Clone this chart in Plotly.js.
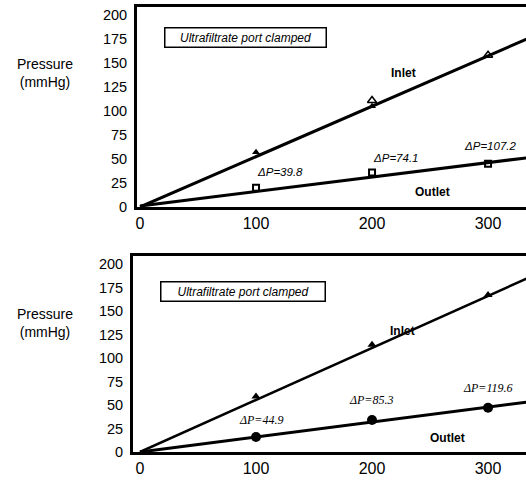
<!DOCTYPE html>
<html>
<head>
<meta charset="utf-8">
<script src="https://cdn.plot.ly/plotly-3.0.1.min.js"></script>
<style>
html,body{margin:0;padding:0;overflow:hidden;background:#fff;}
#chart{width:550px;height:480px;}
</style>
</head>
<body>
<div id="chart"></div>
<script>
// ---- data ----
const flowRates = [100, 200, 300];
const fitX = [0, 345];

// top panel
const topInletOpen = [null, 111, 158];
const topInletFilled = [57, 105, null];
const topOutlet = [20, 36, 45];
const topInletFit = [0, 181];
const topOutletFit = [1, 53];
const topDeltaP = ['39.8', '74.1', '107.2'];

// bottom panel
const bottomInlet = [59, 114, 167];
const bottomOutlet = [16, 34, 47];
const bottomInletFit = [0, 191];
const bottomOutletFit = [0, 55];
const bottomDeltaP = ['44.9', '85.3', '119.6'];

const yTicks = [0, 25, 50, 75, 100, 125, 150, 175, 200];
const xTicks = [0, 100, 200, 300];
const boxText = 'Ultrafiltrate port clamped';
const yTitle = 'Pressure<br>(mmHg)';

const SANS = 'Liberation Sans, Arial, sans-serif';
const SERIF = 'Liberation Serif, Times New Roman, serif';

const lineStyle = {color: '#000', width: 3};

const traces = [
  {x: fitX, y: topInletFit, mode: 'lines', line: lineStyle, xaxis: 'x', yaxis: 'y'},
  {x: fitX, y: topOutletFit, mode: 'lines', line: lineStyle, xaxis: 'x', yaxis: 'y'},
  {x: flowRates, y: topInletFilled, mode: 'markers', xaxis: 'x', yaxis: 'y',
   marker: {symbol: 'triangle-up', size: 7, color: '#000'}},
  {x: flowRates, y: topInletOpen, mode: 'markers', xaxis: 'x', yaxis: 'y',
   marker: {symbol: 'triangle-up-open', size: 8, color: '#000', line: {width: 1.5}}},
  {x: flowRates, y: topOutlet, mode: 'markers', xaxis: 'x', yaxis: 'y',
   marker: {symbol: 'square-open', size: 6, color: '#000', line: {width: 2}}},

  {x: fitX, y: bottomInletFit, mode: 'lines', line: {color: '#000', width: 2.5}, xaxis: 'x2', yaxis: 'y2'},
  {x: fitX, y: bottomOutletFit, mode: 'lines', line: lineStyle, xaxis: 'x2', yaxis: 'y2'},
  {x: flowRates, y: bottomInlet, mode: 'markers', xaxis: 'x2', yaxis: 'y2',
   marker: {symbol: 'triangle-up', size: 8, color: '#000'}},
  {x: flowRates, y: bottomOutlet, mode: 'markers', xaxis: 'x2', yaxis: 'y2',
   marker: {symbol: 'circle', size: 10, color: '#000'}}
];

function xAxis(domainStart, rangeStart, anchor) {
  return {
    domain: [domainStart, 1], range: [rangeStart, 353.4], anchor: anchor,
    tickvals: xTicks, ticktext: xTicks.map(String), showgrid: false, zeroline: false,
    showline: true, linecolor: '#000', linewidth: 3, mirror: true, ticks: '',
    tickfont: {family: SANS, size: 16, color: '#000'}
  };
}
function yAxis(domain, top, anchor) {
  return {
    domain: domain, range: [0, top], anchor: anchor,
    tickvals: yTicks, ticktext: yTicks.map(String), showgrid: false, zeroline: false,
    showline: true, linecolor: '#000', linewidth: 3, mirror: true, ticks: '',
    ticklabelstandoff: 4,
    tickfont: {family: SANS, size: 14.5, color: '#000'}
  };
}

const ann = [];
function txt(text, x, y, xr, yr, font) {
  ann.push({text: text, x: x, y: y, xref: xr, yref: yr, showarrow: false,
            xanchor: 'center', yanchor: 'middle', font: font});
}
const bold = {family: SANS, size: 12, color: '#000', weight: 'bold'};
const itSans = {family: SANS, size: 11.5, color: '#000', style: 'italic'};
const itSerif = {family: SERIF, size: 12, color: '#000', style: 'italic'};
const titleFont = {family: SANS, size: 14, color: '#000'};

// top panel texts
ann.push({text: boxText, x: 90.5, y: 177, xref: 'x', yref: 'y', showarrow: false,
  font: {family: SANS, size: 12, color: '#000', style: 'italic'},
  bordercolor: '#000', borderwidth: 1.5, borderpad: 2, width: 156, bgcolor: '#fff'});
txt('Inlet', 227, 140, 'x', 'y', bold);
txt('Outlet', 252, 16, 'x', 'y', bold);
txt('ΔP=' + topDeltaP[0], 120.7, 36.5, 'x', 'y', itSans);
txt('ΔP=' + topDeltaP[1], 220, 51, 'x', 'y', itSans);
txt('ΔP=' + topDeltaP[2], 301.7, 63.5, 'x', 'y', itSans);
txt(yTitle, 45/550, 1 - 73/480, 'paper', 'paper', titleFont);

// bottom panel texts
ann.push({text: boxText, x: 89, y: 171, xref: 'x2', yref: 'y2', showarrow: false,
  font: {family: SANS, size: 12, color: '#000', style: 'italic'},
  bordercolor: '#000', borderwidth: 1.5, borderpad: 2, width: 159, bgcolor: '#fff'});
txt('Inlet', 226, 129, 'x2', 'y2', bold);
txt('Outlet', 265, 15, 'x2', 'y2', bold);
txt('ΔP=' + bottomDeltaP[0], 104, 34, 'x2', 'y2', itSerif);
txt('ΔP=' + bottomDeltaP[1], 199, 55, 'x2', 'y2', itSerif);
txt('ΔP=' + bottomDeltaP[2], 300, 68, 'x2', 'y2', itSerif);
txt(yTitle, 45/550, 1 - 323/480, 'paper', 'paper', titleFont);

const layout = {
  width: 550, height: 480,
  margin: {l: 0, r: 0, t: 0, b: 0},
  paper_bgcolor: '#fff', plot_bgcolor: '#fff',
  showlegend: false,
  xaxis: xAxis(137/550, -2.6, 'y'),
  yaxis: yAxis([1 - 207/480, 1 - 7/480], 208.3, 'x'),
  xaxis2: xAxis(133/550, -6, 'y2'),
  yaxis2: yAxis([1 - 452/480, 1 - 256/480], 208.5, 'x2'),
  annotations: ann
};

Plotly.newPlot('chart', traces, layout, {staticPlot: true, displayModeBar: false});
</script>
</body>
</html>
